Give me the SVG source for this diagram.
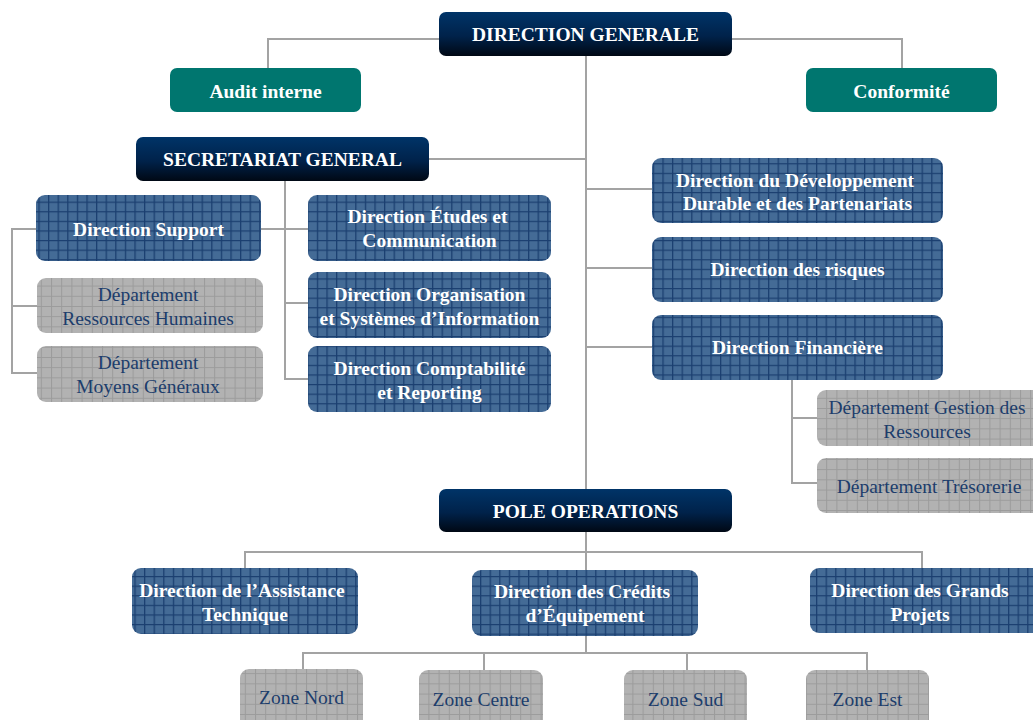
<svg xmlns="http://www.w3.org/2000/svg" width="1033" height="720" viewBox="0 0 1033 720">
<defs>
  <linearGradient id="dark" x1="0" y1="0" x2="0" y2="1">
    <stop offset="0" stop-color="#003468"/>
    <stop offset="0.55" stop-color="#00224a"/>
    <stop offset="1" stop-color="#000814"/>
  </linearGradient>
  <pattern id="blueGrid" patternUnits="userSpaceOnUse" width="9.6" height="9.6">
    <rect width="9.6" height="9.6" fill="#446b96"/>
    <path d="M0 0.6H9.6M0.6 0V9.6" stroke="#1b3f70" stroke-width="1.4" fill="none"/>
  </pattern>
  <pattern id="grayGrid" patternUnits="userSpaceOnUse" width="10.2" height="10.2">
    <rect width="10.2" height="10.2" fill="#b2b2b2"/>
    <path d="M0 0.5H10.2M0.5 0V10.2" stroke="#9b9b9b" stroke-width="1" fill="none"/>
  </pattern>
  <style>
    .dark{fill:url(#dark)}
    .teal{fill:#00766f}
    .blue{fill:url(#blueGrid)}
    .gray{fill:url(#grayGrid)}
    .tw{font-family:"Liberation Serif","Times New Roman",serif;font-weight:bold;fill:#ffffff;text-anchor:middle;font-size:19.5px}
    .tg{font-family:"Liberation Serif","Times New Roman",serif;fill:#1c3d6c;text-anchor:middle;font-size:19.5px}
    .big{font-size:19.5px}
    .conn{stroke:#a3a3a3;stroke-width:2;fill:none}
  </style>
</defs>
<rect width="1033" height="720" fill="#ffffff"/>

<g id="connectors" class="conn">
  <path d="M439 39H268V68"/>
  <path d="M732 39H902V68"/>
  <path d="M586 56V489"/>
  <path d="M429 159H586"/>
  <path d="M586 189H652M586 268H652M586 347H652"/>
  <path d="M285 181V379H308M285 229H308M285 303H308"/>
  <path d="M261 229H285"/>
  <path d="M36 229H12V373H37M12 306H37"/>
  <path d="M792 380V483H817M792 418H817"/>
  <path d="M586 532V552M245 568V552H922V568M586 552V570"/>
  <path d="M586 636V653M303 669V653H867V670M484 653V670M687 653V670"/>
</g>

<g id="direction-generale">
  <rect class="dark" x="439" y="12" width="293" height="44" rx="7"/>
  <text class="tw big" x="585.5" y="41">DIRECTION GENERALE</text>
</g>
<g id="audit-interne">
  <rect class="teal" x="170" y="68" width="191" height="44" rx="7"/>
  <text class="tw" x="265.5" y="98">Audit interne</text>
</g>
<g id="conformite">
  <rect class="teal" x="806" y="68" width="191" height="44" rx="7"/>
  <text class="tw" x="901.5" y="98">Conformité</text>
</g>
<g id="secretariat-general">
  <rect class="dark" x="136" y="137" width="293" height="44" rx="7"/>
  <text class="tw big" x="282.5" y="166">SECRETARIAT GENERAL</text>
</g>
<g id="direction-support">
  <rect class="blue" x="36" y="195" width="225" height="66" rx="9"/>
  <text class="tw" x="148.5" y="236">Direction Support</text>
</g>
<g id="dept-rh">
  <rect class="gray" x="37" y="278" width="226" height="55" rx="9"/>
  <text class="tg" x="148" y="301">Département</text>
  <text class="tg" x="148" y="325">Ressources Humaines</text>
</g>
<g id="dept-mg">
  <rect class="gray" x="37" y="346" width="226" height="56" rx="9"/>
  <text class="tg" x="148" y="369">Département</text>
  <text class="tg" x="148" y="393">Moyens Généraux</text>
</g>
<g id="direction-etudes">
  <rect class="blue" x="308" y="195" width="243" height="66" rx="9"/>
  <text class="tw" x="427.5" y="223">Direction Études et</text>
  <text class="tw" x="429.5" y="247">Communication</text>
</g>
<g id="direction-organisation">
  <rect class="blue" x="308" y="272" width="243" height="66" rx="9"/>
  <text class="tw" x="429.5" y="301">Direction Organisation</text>
  <text class="tw" x="429.5" y="325">et Systèmes d’Information</text>
</g>
<g id="direction-comptabilite">
  <rect class="blue" x="308" y="346" width="243" height="66" rx="9"/>
  <text class="tw" x="429.5" y="375">Direction Comptabilité</text>
  <text class="tw" x="429.5" y="399">et Reporting</text>
</g>
<g id="direction-developpement">
  <rect class="blue" x="652" y="158" width="291" height="65" rx="9"/>
  <text class="tw" x="795" y="187">Direction du Développement</text>
  <text class="tw" x="797.5" y="210">Durable et des Partenariats</text>
</g>
<g id="direction-risques">
  <rect class="blue" x="652" y="237" width="291" height="65" rx="9"/>
  <text class="tw" x="797.5" y="276">Direction des risques</text>
</g>
<g id="direction-financiere">
  <rect class="blue" x="652" y="315" width="291" height="65" rx="9"/>
  <text class="tw" x="797.5" y="354">Direction Financière</text>
</g>
<g id="dept-gestion-ressources">
  <rect class="gray" x="817" y="390" width="226" height="56" rx="9"/>
  <text class="tg" x="927" y="414">Département Gestion des</text>
  <text class="tg" x="927" y="438">Ressources</text>
</g>
<g id="dept-tresorerie">
  <rect class="gray" x="817" y="458" width="226" height="55" rx="9"/>
  <text class="tg" x="929" y="493">Département Trésorerie</text>
</g>
<g id="pole-operations">
  <rect class="dark" x="439" y="489" width="293" height="43" rx="7"/>
  <text class="tw big" x="585.5" y="518">POLE OPERATIONS</text>
</g>
<g id="direction-assistance">
  <rect class="blue" x="132" y="568" width="226" height="66" rx="9"/>
  <text class="tw" x="242" y="597">Direction de l’Assistance</text>
  <text class="tw" x="245" y="621">Technique</text>
</g>
<g id="direction-credits">
  <rect class="blue" x="472" y="570" width="226" height="66" rx="9"/>
  <text class="tw" x="582" y="598">Direction des Crédits</text>
  <text class="tw" x="585" y="622">d’Équipement</text>
</g>
<g id="direction-grands-projets">
  <rect class="blue" x="810" y="568" width="233" height="65" rx="9"/>
  <text class="tw" x="920" y="597">Direction des Grands</text>
  <text class="tw" x="920" y="621">Projets</text>
</g>
<g id="zone-nord">
  <rect class="gray" x="240" y="669" width="123" height="60" rx="9"/>
  <text class="tg" x="301.5" y="704">Zone Nord</text>
</g>
<g id="zone-centre">
  <rect class="gray" x="419" y="670" width="124" height="60" rx="9"/>
  <text class="tg" x="481" y="706">Zone Centre</text>
</g>
<g id="zone-sud">
  <rect class="gray" x="624" y="670" width="123" height="60" rx="9"/>
  <text class="tg" x="685.5" y="706">Zone Sud</text>
</g>
<g id="zone-est">
  <rect class="gray" x="806" y="670" width="123" height="60" rx="9"/>
  <text class="tg" x="867.5" y="706">Zone Est</text>
</g>
</svg>
